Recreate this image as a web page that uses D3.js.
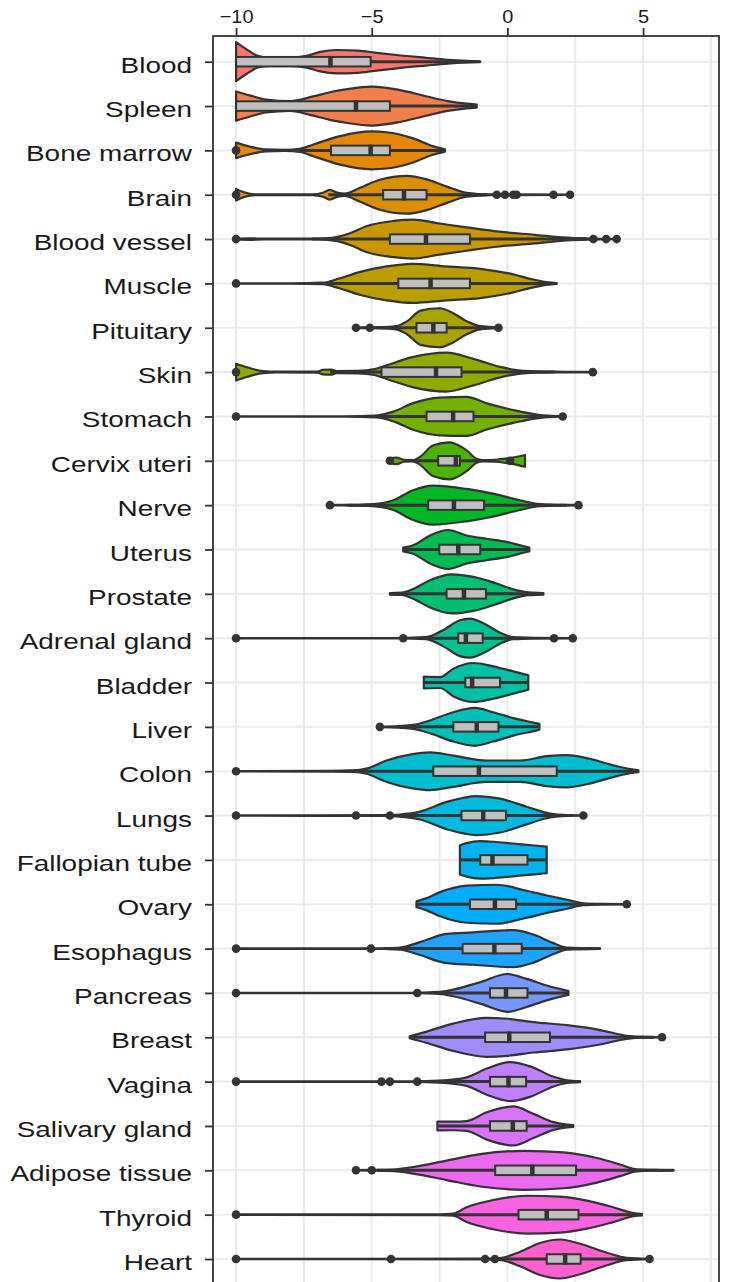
<!DOCTYPE html>
<html>
<head>
<meta charset="utf-8">
<script src="https://cdn.jsdelivr.net/npm/d3@7"></script>
<style>
  html, body { margin: 0; padding: 0; background: #ffffff; }
  svg { display: block; }
</style>
</head>
<body>
<svg id="chart" width="730" height="1282"></svg>
<script>
// ---- data -------------------------------------------------------------
const categories = [
  "Blood", "Spleen", "Bone marrow", "Brain", "Blood vessel", "Muscle",
  "Pituitary", "Skin", "Stomach", "Cervix uteri", "Nerve", "Uterus",
  "Prostate", "Adrenal gland", "Bladder", "Liver", "Colon", "Lungs",
  "Fallopian tube", "Ovary", "Esophagus", "Pancreas", "Breast", "Vagina",
  "Salivary gland", "Adipose tissue", "Thyroid", "Heart"
];

// [lower quartile, median, upper quartile]
const boxStats = [
  [-10, -6.52, -5.04], [-10, -5.58, -4.33], [-6.5, -5.04, -4.33], [-4.58, -3.81, -2.98],
  [-4.33, -3.0, -1.38], [-4.02, -2.83, -1.38], [-3.35, -2.73, -2.24], [-4.64, -2.63, -1.69],
  [-2.98, -2.0, -1.25], [-2.55, -1.9, -1.75], [-2.92, -1.97, -0.86], [-2.51, -1.81, -1.0],
  [-2.24, -1.6, -0.79], [-1.81, -1.53, -0.91], [-1.55, -1.3, -0.27], [-1.99, -1.13, -0.33],
  [-2.73, -1.05, 1.82], [-1.69, -0.89, -0.05], [-1.0, -0.55, 0.74], [-1.38, -0.46, 0.32],
  [-1.65, -0.48, 0.53], [-0.64, -0.05, 0.74], [-0.82, 0.07, 1.57], [-0.64, 0.04, 0.69],
  [-0.64, 0.2, 0.71], [-0.45, 0.92, 2.53], [0.41, 1.45, 2.62], [1.45, 2.13, 2.7]
];

// [lower whisker end, upper whisker end]
const whiskers = [
  [-10, -1.0], [-10, -1.13], [-7.7, -2.3], [-6.6, -0.8],
  [-7.2, 2.9], [-7.5, 1.82], [-4.7, -0.7], [-6.54, 1.76],
  [-5.5, 1.7], [-3.5, -1.0], [-5.9, 2.2], [-3.84, 0.81],
  [-4.33, 1.33], [-3.2, 0.5], [-3.08, 0.77], [-4.0, 1.18],
  [-6.0, 4.83], [-4.2, 2.4], [-1.75, 1.45], [-3.35, 2.8],
  [-4.5, 3.42], [-2.6, 2.25], [-3.6, 5.4], [-3.3, 2.68],
  [-2.58, 2.43], [-4.8, 6.13], [-2.0, 4.96], [-0.3, 4.6]
];

const outliers = [
  [], [], [-10], [-10, -0.39, -0.09, 0.22, 0.34, 1.7, 2.31],
  [-10, 3.17, 3.64, 4.03], [-10], [-5.58, -5.07, -0.33], [-10, 3.15],
  [-10, 2.04], [-4.33, 0.1], [-6.54, 2.62], [],
  [], [-10, -3.84, 1.72, 2.41], [], [-4.7],
  [-10], [-10, -5.58, -4.33, 2.8], [], [4.4],
  [-10, -5.03], [-10, -3.32], [5.7], [-10, -4.64, -4.33, -3.32],
  [], [-5.58, -5.0], [-10], [-10, -4.29, -0.82, -0.46, 5.24]
];

// violin outlines: [value, relative density]
const profiles = [
  [[-10,1.0],[-9.6,0.62],[-9.2,0.3],[-8.8,0.22],[-8.0,0.22],[-7.4,0.3],[-6.9,0.5],[-6.3,0.6],[-5.5,0.57],[-4.9,0.47],[-4.0,0.33],[-3.0,0.2],[-2.2,0.1],[-1.5,0.04],[-1.0,0.01]],
  [[-10,0.75],[-9.5,0.55],[-8.9,0.33],[-8.0,0.25],[-7.2,0.48],[-6.5,0.72],[-5.9,0.87],[-5.0,1.0],[-4.0,0.83],[-3.0,0.5],[-2.2,0.25],[-1.5,0.12],[-1.13,0.08]],
  [[-10,0.4],[-9.5,0.2],[-8.9,0.05],[-8.2,0.03],[-7.65,0.08],[-7.15,0.3],[-6.2,0.72],[-5.0,0.97],[-4.45,0.93],[-3.5,0.63],[-2.75,0.22],[-2.3,0.06]],
  [[-10,0.3],[-9.7,0.12],[-9.3,0.02],[-7.2,0.02],[-6.8,0.1],[-6.55,0.25],[-6.25,0.1],[-6.0,0.06],[-5.45,0.35],[-4.7,0.77],[-3.7,0.97],[-3.0,0.8],[-2.25,0.43],[-1.5,0.1],[-0.6,0.02],[2.31,0.01]],
  [[-10,0.02],[-9.5,0.04],[-9.0,0.02],[-7.0,0.02],[-6.4,0.08],[-5.8,0.3],[-5.2,0.66],[-4.2,0.93],[-3.5,1.0],[-2.5,0.8],[-1.5,0.6],[-0.3,0.38],[1.0,0.22],[2.2,0.07],[3.0,0.03],[4.03,0.01]],
  [[-10,0.01],[-8.0,0.01],[-6.8,0.04],[-6.2,0.25],[-5.45,0.58],[-4.45,0.87],[-3.5,1.0],[-2.25,0.87],[-1.0,0.75],[0,0.53],[0.96,0.2],[1.5,0.06],[1.82,0.02]],
  [[-5.58,0.02],[-4.6,0.03],[-4.1,0.08],[-3.7,0.33],[-3.2,0.88],[-2.5,1.0],[-2.0,0.75],[-1.5,0.33],[-1.0,0.08],[-0.33,0.02]],
  [[-10,0.43],[-9.6,0.25],[-9.0,0.05],[-8.5,0.02],[-7.0,0.03],[-6.8,0.12],[-6.5,0.13],[-6.3,0.05],[-5.5,0.06],[-4.9,0.15],[-4.45,0.35],[-3.5,0.77],[-2.25,1.0],[-1.25,0.68],[-0.27,0.27],[0.6,0.06],[1.7,0.02],[3.15,0.01]],
  [[-10,0.01],[-6.0,0.01],[-4.85,0.05],[-4.2,0.25],[-3.5,0.67],[-2.5,0.97],[-1.5,1.0],[-0.76,0.67],[0.22,0.33],[1.08,0.1],[1.5,0.04],[2.04,0.01]],
  [[-4.33,0.12],[-4.1,0.17],[-3.8,0.05],[-3.5,0.03],[-3.2,0.22],[-2.75,0.78],[-2.12,0.95],[-1.5,0.53],[-1.13,0.1],[-0.9,0.03],[-0.45,0.05],[0.0,0.12],[0.4,0.22],[0.65,0.3]],
  [[-6.54,0.01],[-5.5,0.02],[-4.95,0.05],[-4.2,0.25],[-3.5,0.75],[-2.75,1.0],[-1.5,0.83],[-0.5,0.58],[0.47,0.25],[1.2,0.05],[1.8,0.02],[2.62,0.01]],
  [[-3.84,0.1],[-3.47,0.22],[-2.85,0.72],[-2.18,1.0],[-1.5,0.72],[-0.76,0.55],[0,0.38],[0.59,0.17],[0.81,0.1]],
  [[-4.33,0.04],[-3.9,0.06],[-3.47,0.25],[-2.85,0.7],[-2.05,1.0],[-1.25,0.87],[-0.4,0.53],[0.22,0.23],[0.8,0.07],[1.33,0.04]],
  [[-10,0.01],[-4.0,0.01],[-3.0,0.05],[-2.36,0.42],[-1.75,0.92],[-1.38,1.0],[-0.76,0.67],[-0.27,0.28],[0.22,0.05],[1.0,0.02],[2.41,0.01]],
  [[-3.08,0.3],[-2.48,0.28],[-2.0,0.7],[-1.25,1.0],[-0.52,0.83],[0.22,0.57],[0.77,0.37]],
  [[-4.7,0.01],[-4.0,0.04],[-3.47,0.1],[-2.85,0.33],[-2.0,0.75],[-1.2,0.97],[-0.52,0.75],[0.22,0.45],[0.96,0.22],[1.18,0.15]],
  [[-10,0.01],[-6.5,0.02],[-5.68,0.04],[-5.2,0.13],[-4.45,0.55],[-3.5,0.88],[-2.85,0.97],[-2.0,0.8],[-0.76,0.55],[0.47,0.55],[1.45,0.77],[2.2,0.83],[2.93,0.67],[3.9,0.3],[4.65,0.08],[4.83,0.05]],
  [[-10,0.01],[-4.5,0.02],[-3.96,0.05],[-3.22,0.2],[-2.24,0.7],[-1.13,1.0],[-0.27,0.87],[0.71,0.45],[1.57,0.1],[2.2,0.02],[2.8,0.01]],
  [[-1.75,0.75],[-1.5,0.86],[-1.0,0.96],[-0.5,0.93],[0.2,0.84],[1.0,0.74],[1.45,0.68]],
  [[-3.35,0.15],[-3.0,0.3],[-2.48,0.62],[-1.5,0.95],[-0.4,1.0],[0.6,0.73],[1.45,0.45],[2.2,0.23],[2.8,0.05],[3.5,0.02],[4.4,0.01]],
  [[-10,0.01],[-5.03,0.01],[-4.5,0.02],[-3.96,0.05],[-3.22,0.33],[-2.24,0.75],[-1.25,0.83],[0.22,0.95],[0.96,0.72],[1.7,0.28],[2.2,0.05],[3.42,0.01]],
  [[-10,0.01],[-3.32,0.01],[-2.5,0.05],[-2.0,0.17],[-1.0,0.55],[0,0.97],[0.71,0.72],[1.45,0.38],[2.25,0.1]],
  [[-3.6,0.05],[-3.0,0.28],[-2.0,0.7],[-0.76,1.0],[0,0.95],[0.96,0.78],[2.2,0.62],[3.42,0.37],[4.4,0.08],[5.0,0.02],[5.7,0.01]],
  [[-10,0.01],[-3.5,0.02],[-2.5,0.05],[-1.5,0.22],[-0.76,0.67],[0.1,1.0],[0.84,0.78],[1.7,0.25],[2.2,0.07],[2.68,0.03]],
  [[-2.58,0.23],[-2.0,0.22],[-1.5,0.25],[-0.76,0.7],[0.22,1.0],[0.96,0.62],[1.7,0.2],[2.2,0.07],[2.43,0.05]],
  [[-5.58,0.01],[-5.0,0.02],[-4.2,0.04],[-3.47,0.17],[-2.24,0.5],[-1.0,0.83],[0.6,1.0],[2.07,0.92],[3.3,0.63],[4.16,0.3],[4.77,0.05],[5.5,0.02],[6.13,0.01]],
  [[-10,0.01],[-2.5,0.02],[-2.0,0.05],[-1.5,0.38],[-0.52,0.75],[0.71,0.97],[1.94,0.92],[2.93,0.72],[3.9,0.38],[4.65,0.08],[4.96,0.04]],
  [[-10,0.01],[-0.8,0.02],[-0.27,0.05],[0.47,0.37],[1.2,0.82],[1.94,1.0],[2.68,0.78],[3.67,0.32],[4.4,0.06],[5.24,0.01]]
];

const xTicks = [-10, -5, 0, 5];
const xGridValues = [-10, -7.5, -5, -2.5, 0, 2.5, 5, 7.5];

// ---- palette: evenly spaced hues in polar CIE-LUV (chroma 100, luminance 65)
const hueStart = 15, hueStep = 360 / 31;
function hclLuv(h, c, l) {
  const WY = 100, Wu = 0.1978398, Wv = 0.4683363;
  const hr = h * Math.PI / 180;
  const U = c * Math.cos(hr), V = c * Math.sin(hr);
  const Y = WY * (l > 7.999592 ? Math.pow((l + 16) / 116, 3) : l / 903.3);
  const u = U / (13 * l) + Wu, v = V / (13 * l) + Wv;
  const X = 9 * Y * u / (4 * v);
  const Z = -X / 3 - 5 * Y + 3 * Y / v;
  const g = t => t > 0.00304 ? 1.055 * Math.pow(t, 1 / 2.4) - 0.055 : 12.92 * t;
  const clamp = t => Math.max(0, Math.min(1, t));
  const r = clamp(g(( 3.240479 * X - 1.537150 * Y - 0.498535 * Z) / WY));
  const gg = clamp(g((-0.969256 * X + 1.875992 * Y + 0.041556 * Z) / WY));
  const b = clamp(g(( 0.055648 * X - 0.204043 * Y + 1.057311 * Z) / WY));
  return d3.rgb(r * 255, gg * 255, b * 255).formatHex();
}
const colors = categories.map((c, i) => hclLuv(hueStart + i * hueStep, 100, 65));

// ---- layout -----------------------------------------------------------
const ink = "#333333";
const panel = { left: 213, right: 719, top: 36, bottom: 1310 };
const svg = d3.select("#chart");

const x = d3.scaleLinear().domain([-10.85, 7.8]).range([panel.left, panel.right]);
const y = d3.scalePoint().domain(categories).range([61.7, 1259]);
const half = d3.scaleLinear().domain([0, 1]).range([0, 19.5]);

// panel background + grid
svg.append("rect")
  .attr("x", panel.left).attr("y", panel.top)
  .attr("width", panel.right - panel.left).attr("height", panel.bottom - panel.top)
  .attr("fill", "#ffffff");

const grid = svg.append("g").attr("stroke", "#EBEBEB").attr("stroke-width", 2);
grid.selectAll("line.v").data(xGridValues).join("line")
  .attr("class", "v")
  .attr("x1", d => x(d)).attr("x2", d => x(d))
  .attr("y1", panel.top).attr("y2", panel.bottom);
grid.selectAll("line.h").data(categories).join("line")
  .attr("class", "h")
  .attr("x1", panel.left).attr("x2", panel.right)
  .attr("y1", d => y(d)).attr("y2", d => y(d));

// violins + boxplots
const violinArea = (cy) => d3.area()
  .x(d => x(d[0]))
  .y0(d => cy - half(d[1]))
  .y1(d => cy + half(d[1]))
  .curve(d3.curveMonotoneX);

const boxH = 9.5;
categories.forEach((cat, i) => {
  const cy = y(cat);
  const g = svg.append("g").attr("class", "tissue");

  g.append("path")
    .attr("d", violinArea(cy)(profiles[i]))
    .attr("fill", colors[i])
    .attr("stroke", ink)
    .attr("stroke-width", 2.2)
    .attr("stroke-linejoin", "round");

  const [q1, med, q3] = boxStats[i];
  const [lo, hi] = whiskers[i];

  g.append("line")
    .attr("x1", x(lo)).attr("x2", x(q1))
    .attr("y1", cy).attr("y2", cy)
    .attr("stroke", ink).attr("stroke-width", 3);
  g.append("line")
    .attr("x1", x(q3)).attr("x2", x(hi))
    .attr("y1", cy).attr("y2", cy)
    .attr("stroke", ink).attr("stroke-width", 3);

  g.append("rect")
    .attr("x", x(q1)).attr("y", cy - boxH / 2)
    .attr("width", x(q3) - x(q1)).attr("height", boxH)
    .attr("fill", "#BFBFBF")
    .attr("stroke", ink).attr("stroke-width", 2);

  g.append("line")
    .attr("x1", x(med)).attr("x2", x(med))
    .attr("y1", cy - boxH / 2 - 1).attr("y2", cy + boxH / 2 + 1)
    .attr("stroke", ink).attr("stroke-width", 4.5);

  g.selectAll("circle").data(outliers[i]).join("circle")
    .attr("cx", d => x(d)).attr("cy", cy).attr("r", 4.3)
    .attr("fill", ink);
});

// panel border
svg.append("rect")
  .attr("x", panel.left).attr("y", panel.top)
  .attr("width", panel.right - panel.left).attr("height", panel.bottom - panel.top)
  .attr("fill", "none").attr("stroke", ink).attr("stroke-width", 1.8);

// top axis
const tickSX = 1.05;
const xAxis = svg.append("g")
  .attr("transform", `translate(0,${panel.top})`)
  .call(d3.axisTop(x).tickValues(xTicks).tickSize(8).tickPadding(5));
xAxis.select(".domain").remove();
xAxis.selectAll(".tick line").attr("stroke", ink).attr("stroke-width", 1.8);
xAxis.selectAll(".tick text")
  .attr("fill", "#1a1a1a")
  .style("font-family", "'Liberation Sans', Arial, sans-serif")
  .style("font-size", "19px")
  .attr("y", -13).attr("dy", null)
  .attr("transform", `scale(${tickSX},1)`);

// left axis with tissue names
const labSX = 1.27;
const yAxis = svg.append("g")
  .attr("transform", `translate(${panel.left},0)`)
  .call(d3.axisLeft(y).tickSize(8));
yAxis.select(".domain").remove();
yAxis.selectAll(".tick line").attr("stroke", ink).attr("stroke-width", 1.8);
yAxis.selectAll(".tick text")
  .attr("fill", "#1a1a1a")
  .style("font-family", "'Liberation Sans', Arial, sans-serif")
  .style("font-size", "22px")
  .attr("text-anchor", "end")
  .attr("x", -21 / labSX)
  .attr("y", 10.5).attr("dy", null)
  .attr("transform", `scale(${labSX},1)`);
</script>
</body>
</html>
